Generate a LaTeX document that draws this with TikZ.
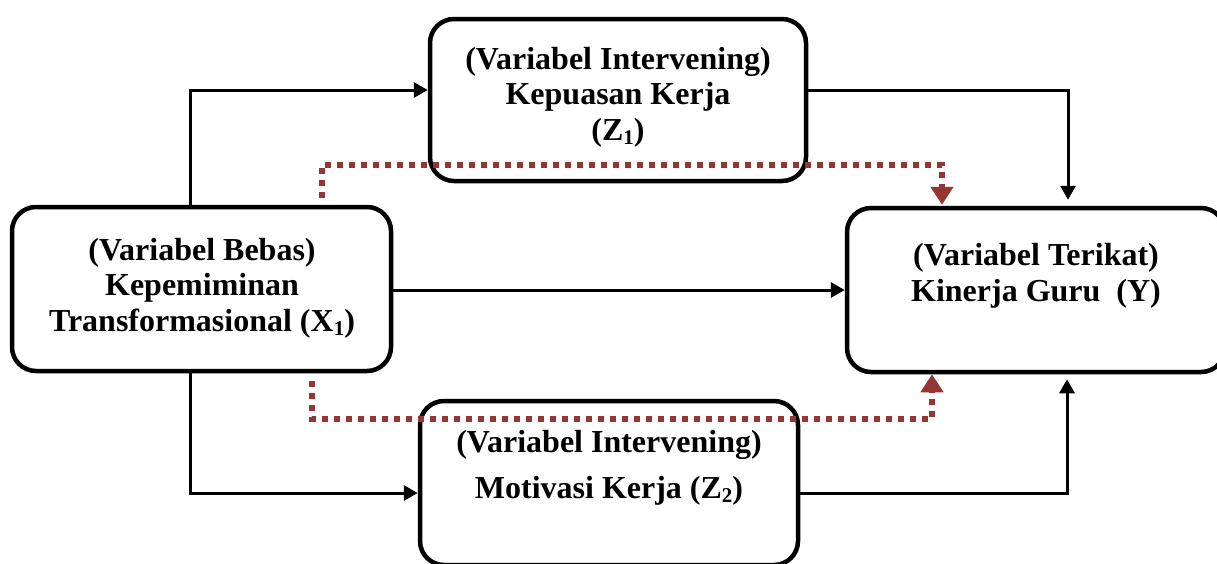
\documentclass[tikz,border=0pt]{standalone}
\usepackage{fontspec}
\setmainfont{Liberation Serif}
\usetikzlibrary{arrows.meta,calc}
\definecolor{dred}{HTML}{943634}
\newcommand\subidx[1]{\raisebox{-0.12em}{\fontsize{21}{21}\selectfont #1}}
\tikzset{
  box/.style={draw=black,line width=4.5pt,rounded corners=24pt,fill=white,inner sep=0pt,align=center},
  txt/.style={align=center,font=\fontsize{32}{35.5}\selectfont\bfseries,inner sep=0pt},
  arr/.style={line width=3pt,-{Triangle[length=14pt,width=15pt]}},
  redarr/.style={dred,line width=6pt,dash pattern=on 6pt off 6pt,-{Triangle[length=18pt,width=22pt]}},
}
\begin{document}
\begin{tikzpicture}[x=1pt,y=-1pt]
\clip (0,0) rectangle (1217,563);
\fill[white] (0,0) rectangle (1217,563);
% boxes
\node[box,minimum width=379pt,minimum height=164pt] (X) at (201.5,289) {};
\node[box,minimum width=376pt,minimum height=162pt] (Z1) at (618,100) {};
\node[box,minimum width=378pt,minimum height=164pt] (Y) at (1036,290) {};
\node[box,minimum width=378pt,minimum height=164pt] (Z2) at (609,483) {};
% texts
\node[txt] (tX) at (202,288) {(Variabel Bebas)\\Kepemiminan\\Transformasional (X\subidx{1})};
\node[txt] (tZ1) at (618,97) {(Variabel Intervening)\\Kepuasan Kerja\\(Z\subidx{1})};
\node[txt] (tY) at (1036,276) {(Variabel Terikat)\\Kinerja Guru~ (Y)};
\node[txt] (tZ2) at (609,468) {(Variabel Intervening)\\[10pt]Motivasi Kerja (Z\subidx{2})};
% coordinates
\coordinate (a1) at (190,90);
\coordinate (a2) at (1068,90);
\coordinate (a3) at (190,493);
\coordinate (a4) at (1067,493);
\coordinate (r1) at (322,165);
\coordinate (r2) at (942,165);
\coordinate (r3) at (312,419);
\coordinate (r4) at (932,419);
% black connectors
\draw[arr] (a1 |- X.north) |- (a1 -| Z1.west);
\draw[arr,shorten >=6pt] (a2 -| Z1.east) -| (a2 |- Y.north);
\draw[arr] (X.east |- 0,290) -- (Y.west |- 0,290);
\draw[arr] (a3 |- X.south) |- (a3 -| Z2.west);
\draw[arr,shorten >=5pt] (a4 -| Z2.east) -| (a4 |- Y.south);
% red dotted connectors
\draw[redarr,shorten <=7pt,shorten >=1pt] (r1 |- X.north) |- (r2) -- (r2 |- Y.north);
\draw[redarr,shorten <=8pt,shorten >=0pt] (r3 |- X.south) |- (r4) -- (r4 |- Y.south);
\end{tikzpicture}
\end{document}
